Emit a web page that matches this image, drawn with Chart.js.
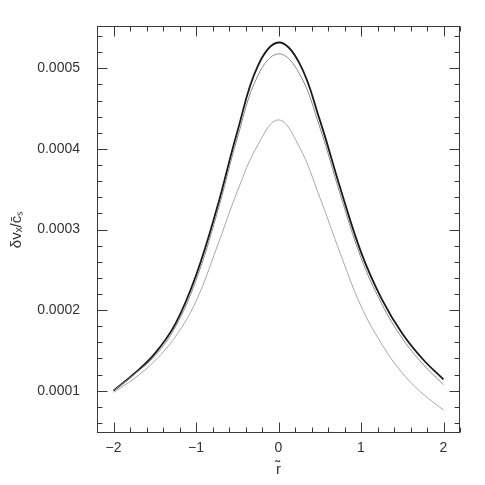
<!DOCTYPE html>
<html><head><meta charset="utf-8">
<script src="https://cdn.jsdelivr.net/npm/chart.js@4/dist/chart.umd.min.js"></script>
<style>html,body{margin:0;padding:0;background:#fff}canvas{display:block}</style>
</head><body>
<canvas id="c" width="485" height="485"></canvas>
<script>
// r~ positions
const rValues = [-2, -1.75, -1.5, -1.25, -1, -0.75, -0.5, -0.25, 0, 0.25, 0.5, 0.75, 1, 1.25, 1.5, 1.75, 2];
// delta v_x / c_s curves
const dvUpper  = [0.000100, 0.000121, 0.000146, 0.000183, 0.000243, 0.000325, 0.000421, 0.000503, 0.000532, 0.000507, 0.000436, 0.000351, 0.000272, 0.000214, 0.000171, 0.000139, 0.000114];
const dvMiddle = [0.000100, 0.000120, 0.000143, 0.000179, 0.000237, 0.000318, 0.000413, 0.000491, 0.000518, 0.000494, 0.000427, 0.000343, 0.000265, 0.000208, 0.000165, 0.000133, 0.0001075];
const dvLower  = [0.000098, 0.000115, 0.000137, 0.000167, 0.000211, 0.000277, 0.000347, 0.000405, 0.000436, 0.000403, 0.000340, 0.000270, 0.000205, 0.000158, 0.000122, 0.000096, 0.000076];
// axis ranges and ticks
const xRange = [-2.2, 2.2];
const yRange = [0.0000475, 0.0005525];
const xMajorStep = 1, xMinorStep = 0.2;
const yMajorStep = 0.0001, yMinorStep = 0.00002;

const toPts = arr => arr.map((v, i) => ({x: rValues[i], y: v}));

const frameTicks = {
  id: 'frameTicks',
  afterDatasetsDraw(chart) {
    const {ctx, chartArea: a, scales: {x, y}} = chart;
    ctx.save();
    ctx.strokeStyle = '#3a3a3a';
    ctx.lineWidth = 1;
    const L = Math.round(a.left) + 0.5, R = Math.round(a.right) - 0.5;
    const T = Math.round(a.top) + 0.5, B = Math.round(a.bottom) - 0.5;
    ctx.strokeRect(L, T, R - L, B - T);
    ctx.beginPath();
    const doX = (step, len) => {
      for (let k = Math.ceil(x.min / step - 1e-9); k <= Math.floor(x.max / step + 1e-9); k++) {
        const p = Math.round(x.getPixelForValue(k * step)) + 0.5;
        ctx.moveTo(p, B); ctx.lineTo(p, B - len);
        ctx.moveTo(p, T); ctx.lineTo(p, T + len);
      }
    };
    const doY = (step, len) => {
      for (let k = Math.ceil(y.min / step - 1e-9); k <= Math.floor(y.max / step + 1e-9); k++) {
        const p = Math.round(y.getPixelForValue(k * step)) + 0.5;
        ctx.moveTo(L, p); ctx.lineTo(L + len, p);
        ctx.moveTo(R, p); ctx.lineTo(R - len, p);
      }
    };
    doX(xMinorStep, 5); doX(xMajorStep, 10);
    doY(yMinorStep, 5); doY(yMajorStep, 10);
    ctx.stroke();
    ctx.restore();
  }
};

const lineStyle = {pointRadius: 0, tension: 0.4, fill: false};

new Chart(document.getElementById('c'), {
  type: 'line',
  data: {
    datasets: [
      Object.assign({data: toPts(dvLower), borderColor: '#a8a8a8', borderWidth: 1}, lineStyle),
      Object.assign({data: toPts(dvMiddle), borderColor: '#8a8a8a', borderWidth: 1}, lineStyle),
      Object.assign({data: toPts(dvUpper), borderColor: '#1a1a1a', borderWidth: 1.8}, lineStyle)
    ]
  },
  options: {
    responsive: false,
    animation: false,
    layout: {padding: {top: 26, right: 25, left: 0, bottom: 0}},
    plugins: {legend: {display: false}, tooltip: {enabled: false}},
    scales: {
      x: {
        type: 'linear', min: xRange[0], max: xRange[1],
        grid: {display: false, drawTicks: false},
        border: {display: false},
        ticks: {
          stepSize: xMajorStep, includeBounds: false, padding: 7,
          color: '#333', font: {family: 'Liberation Sans', size: 14},
          maxRotation: 0,
          callback: v => v < 0 ? '\u2212' + Math.abs(v) : String(v)
        },
        title: {display: true, text: 'r\u0303', color: '#333', font: {family: 'Liberation Sans', size: 15}, padding: {top: 0, bottom: 6}},
        afterFit: s => { s.height = 52; }
      },
      y: {
        type: 'linear', min: yRange[0], max: yRange[1],
        grid: {display: false, drawTicks: false},
        border: {display: false},
        ticks: {
          stepSize: yMajorStep, includeBounds: false, padding: 17,
          color: '#333', font: {family: 'Liberation Sans', size: 14},
          callback: v => v.toFixed(4)
        },
        title: {display: true, text: '\u03B4v\u2093/c\u0304\u209B', color: '#333', font: {family: 'Liberation Sans', size: 15}, padding: {top: 8, bottom: 0}},
        afterFit: s => { s.width = 97; }
      }
    }
  },
  plugins: [frameTicks]
});
</script>
</body></html>
